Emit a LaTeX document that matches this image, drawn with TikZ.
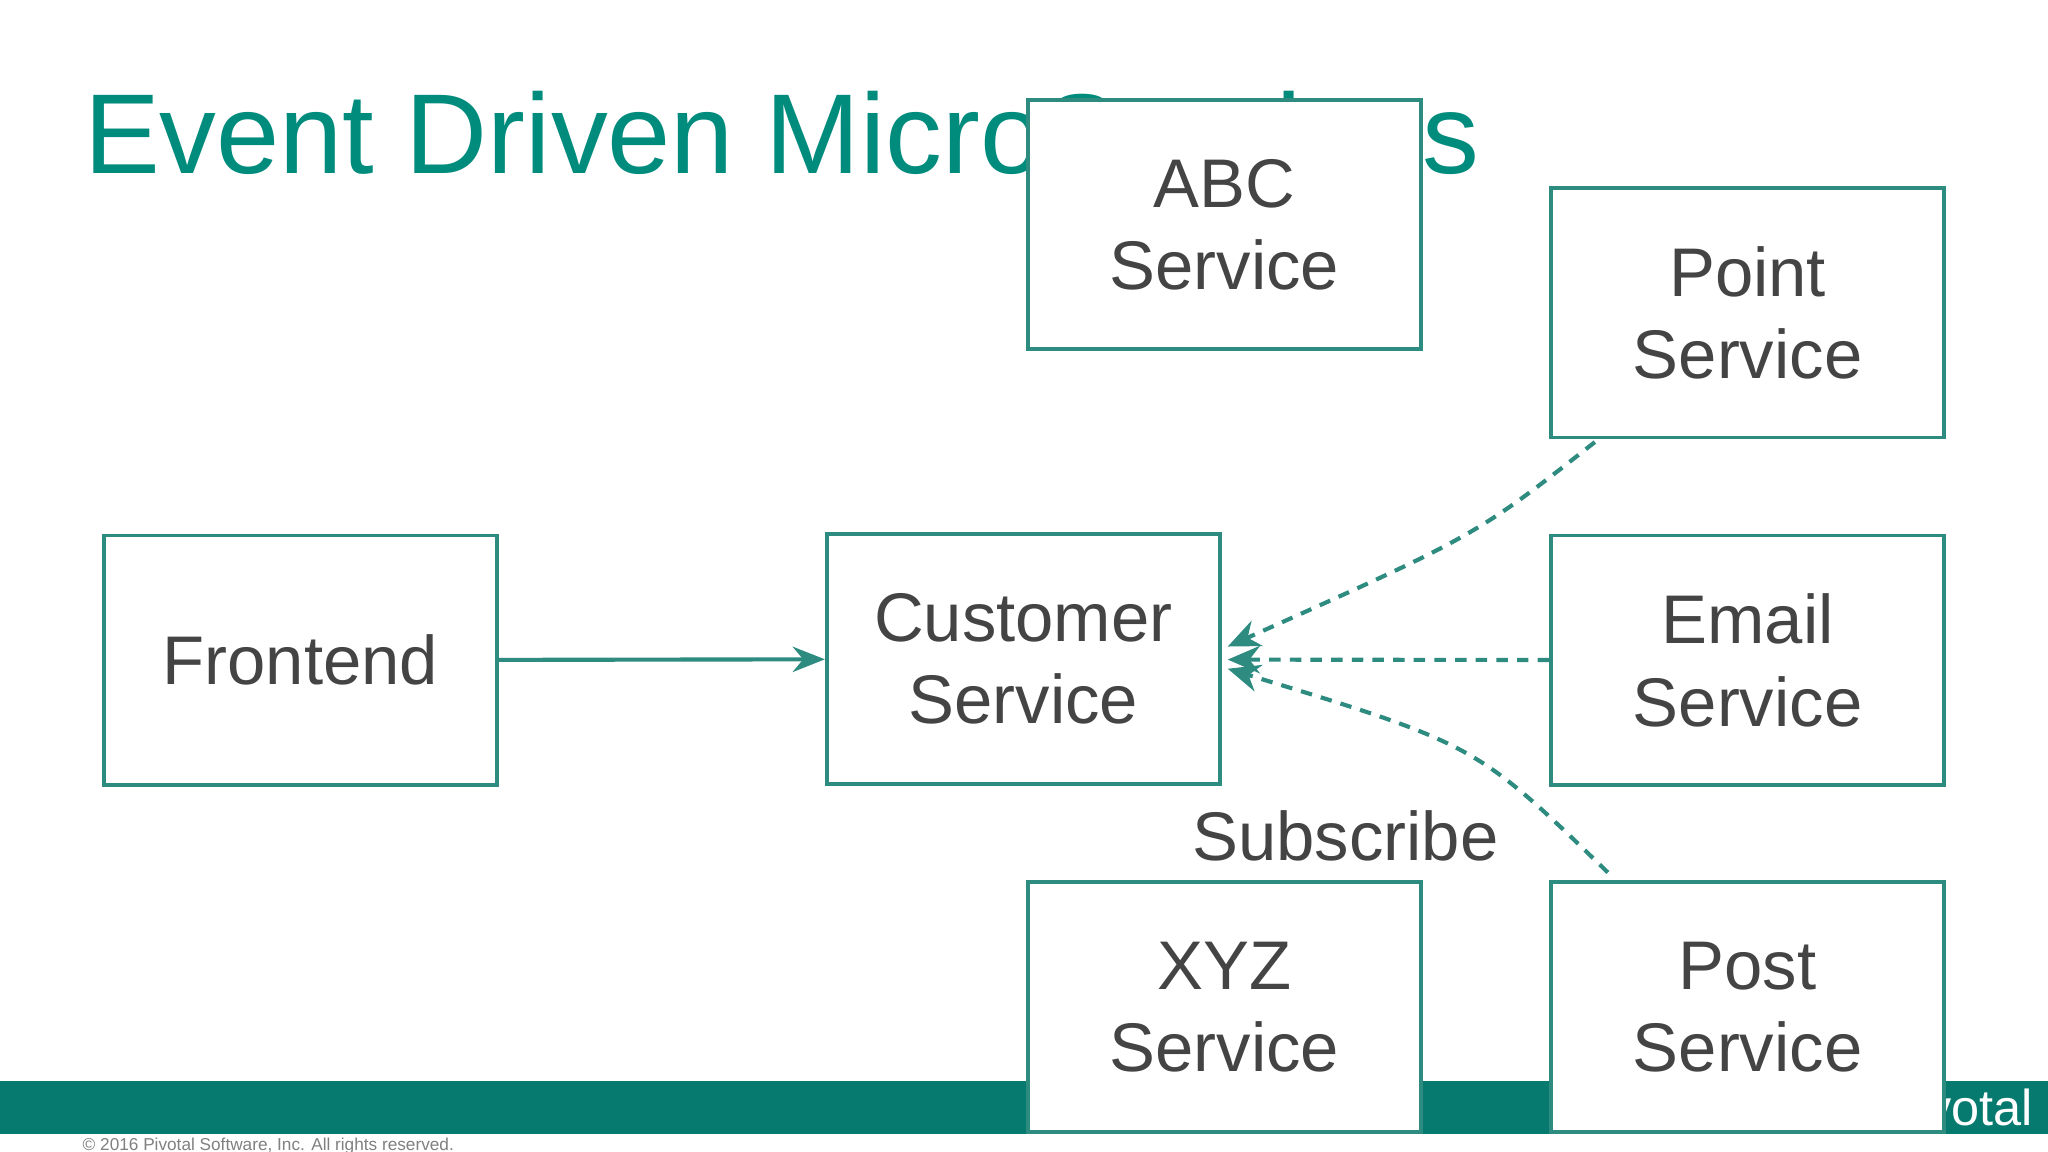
\documentclass[tikz,border=0pt]{standalone}
\usepackage{fontspec}
\setmainfont{Liberation Sans}
\usetikzlibrary{arrows.meta}
\definecolor{teal1}{RGB}{0,140,125}
\definecolor{boxc}{RGB}{46,139,128}
\definecolor{barc}{RGB}{6,122,110}
\definecolor{txt}{RGB}{68,68,68}
\begin{document}
\begin{tikzpicture}[x=0.02cm,y=-0.02cm,
  box/.style={draw=boxc,line width=1.7pt,fill=white,minimum width=6.02cm,minimum height=3.82cm,text=txt,font=\fontsize{30}{36}\selectfont,align=center,inner sep=0pt},
  con/.style={draw=boxc,line width=1.8pt},
  dsh/.style={con,dash pattern=on 5pt off 4pt,-{Stealth[length=14pt,width=12pt]}}]
\useasboundingbox (0,0) rectangle (1568,882);
\fill[white] (0,0) rectangle (1568,882);
\fill[barc] (0,828) rectangle (1568,868);
\node[anchor=base west,text=white,font=\fontsize{22}{26}\selectfont,inner sep=0] (pv) at (1440,862) {Pivotal};
\node[anchor=base west,text=gray,font=\fontsize{7.5}{9}\selectfont,inner sep=0] (cp) at (63,881) {© 2016 Pivotal Software, Inc. All rights reserved.};
\node[anchor=base west,text=teal1,font=\fontsize{49.5}{58}\selectfont,inner sep=0] (title) at (64,133) {Event Driven MicroServices};
\node[box] (abc) at (937.5,172) {ABC\\Service};
\node[box] (point) at (1338,239.5) {Point\\Service};
\node[box] (front) at (230,505.5) {Frontend};
\node[box] (cust) at (783.5,504.5) {Customer\\Service};
\node[box] (email) at (1338,505.5) {Email\\Service};
\node[box] (xyz) at (937.5,771) {XYZ\\Service};
\node[box] (post) at (1338,771) {Post\\Service};
\draw[con,-{Stealth[length=14pt,width=11pt]}] (front) -- (cust);
\coordinate (c1) at (940,495);
\coordinate (c2) at (940,505);
\coordinate (c3) at (940,512);
\draw[dsh] (point.south west) ++(35,2) .. controls (1130,410) .. (c1);
\draw[dsh] (email) -- (c2);
\draw[dsh] (post.north west) ++(45,-6) .. controls (1130,570) .. (c3);
\node[text=txt,font=\fontsize{30}{36}\selectfont] (sub) at (1030,640) {Subscribe};
\end{tikzpicture}
\end{document}
